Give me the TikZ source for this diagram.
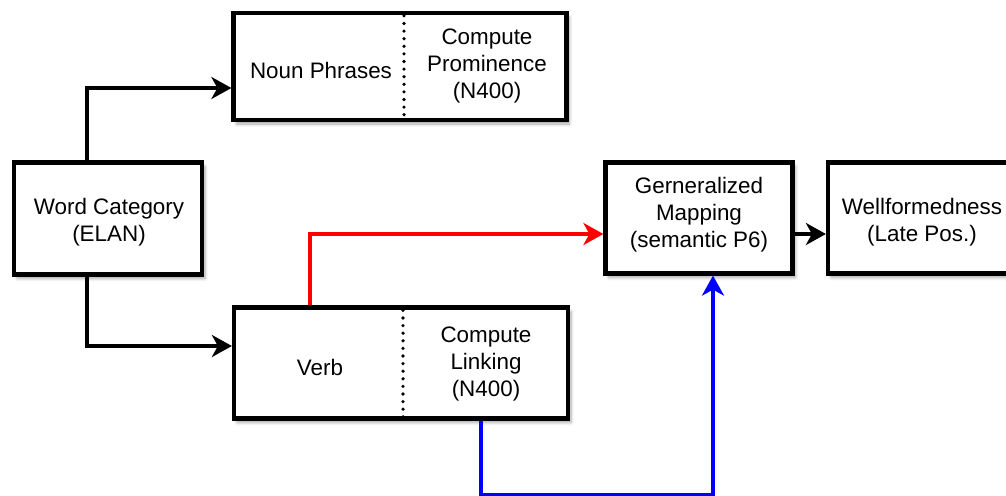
\documentclass[tikz,border=0pt]{standalone}
\usepackage{fontspec}
\setmainfont{Liberation Sans}
\usetikzlibrary{arrows.meta,shadows.blur,calc}
\tikzset{
  box/.style={draw=black, line width=4.2pt, fill=white, inner sep=0pt,
    blur shadow={shadow xshift=3pt, shadow yshift=-4pt, shadow opacity=35, shadow blur steps=6, shadow blur radius=3pt}},
  lbl/.style={align=center, inner sep=0pt, font=\fontsize{22.4}{26.8}\selectfont},
  divider/.style={line width=3.6pt, line cap=round, dash pattern=on 0pt off 7.6pt},
  arr/.style={line width=3.4pt, -{Stealth[length=20pt,width=22pt,inset=6pt]}},
}
\begin{document}
\begin{tikzpicture}[x=1pt,y=-1pt]
\useasboundingbox (0,0) rectangle (1006,495);

% boxes
\node[box, minimum width=188pt, minimum height=112pt] (wc) at (108,218.5) {};
\node[box, minimum width=333pt, minimum height=107pt] (np) at (400,66.5) {};
\node[box, minimum width=334pt, minimum height=111pt] (vb) at (401,363) {};
\node[box, minimum width=187pt, minimum height=111pt] (gm) at (699,218) {};
\node[box, minimum width=182pt, minimum height=111pt] (wf) at (919,218) {};

% dotted separators inside the split boxes
\draw[divider] ($(np.north)+(4,5)$) -- ($(np.south)+(4,-3)$);
\draw[divider] ($(vb.north)+(2,5)$) -- ($(vb.south)+(2,-3)$);

% labels
\node[lbl] (wct) at (109,222) {Word Category\\(ELAN)};
\node[lbl] (npl) at (321,70) {Noun Phrases};
\node[lbl] (npr) at (487,66) {Compute\\Prominence\\(N400)};
\node[lbl] (vbl) at (320,367) {Verb};
\node[lbl] (vbr) at (486,364) {Compute\\Linking\\(N400)};
\node[lbl] (gmt) at (699,215) {Gerneralized\\Mapping\\(semantic P6)};
\node[lbl] (wft) at (922,222) {Wellformedness\\(Late Pos.)};

% connectors
\draw[arr] ($(wc.north)+(-21,0)$) |- ($(np.west)+(0,21.5)$);
\draw[arr] ($(wc.south)+(-21,0)$) |- ($(vb.west)+(0,-17)$);
\draw[arr, red] ($(vb.north)+(-91,0)$) |- ($(gm.west)+(0,16)$);
\coordinate (bl) at ($(vb.south)+(80,74)$);
\draw[arr, blue] ($(vb.south)+(80,0)$) -- (bl) -| ($(gm.south)+(14,0)$);
\draw[arr] ($(gm.east)+(0,16)$) -- ($(wf.west)+(0,16)$);
\end{tikzpicture}
\end{document}
